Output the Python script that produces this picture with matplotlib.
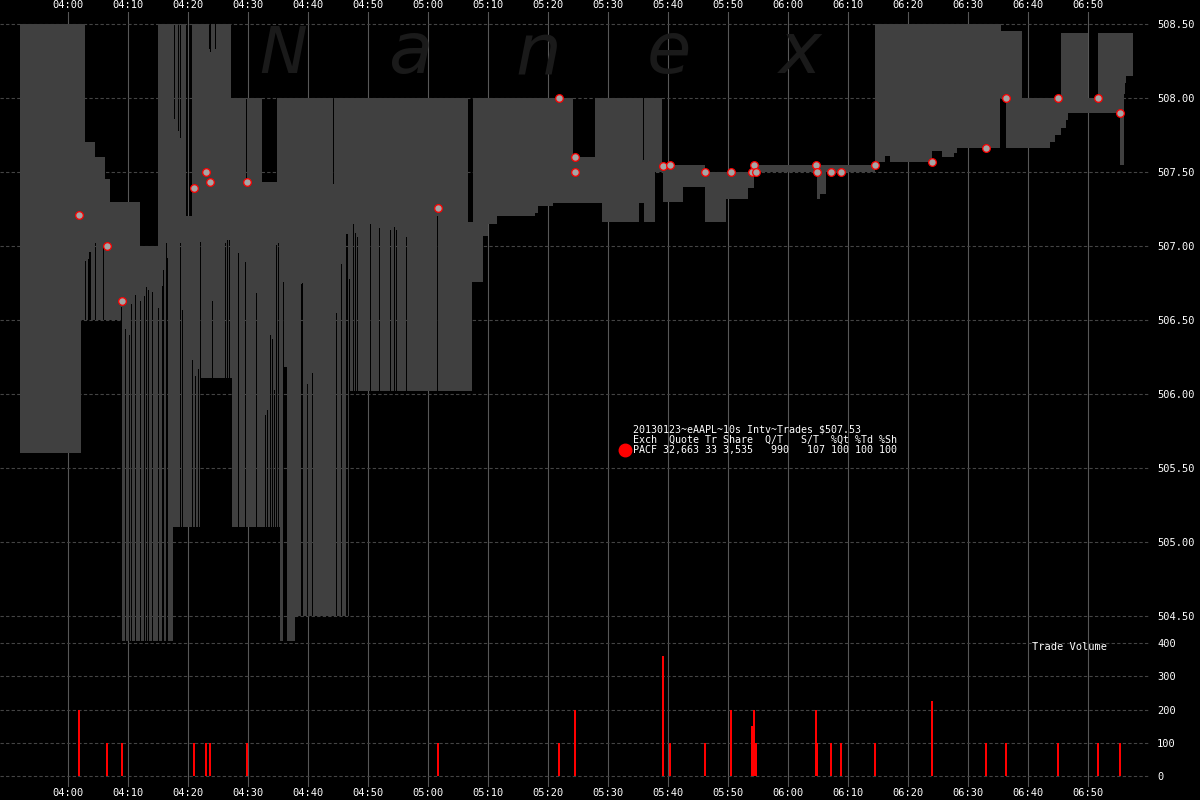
"""Recreates the Nanex eAAPL 10s interval quote spread and trade volume chart."""

import numpy as np
import matplotlib

matplotlib.use("Agg")

import matplotlib.pyplot as plt
from matplotlib.ticker import FixedLocator, FuncFormatter


FIG_WIDTH_PX = 1200
FIG_HEIGHT_PX = 800
DPI = 100
PLOT_RIGHT_PX = 1150
PRICE_TOP_PX = 12
PRICE_BOTTOM_PX = 641
VOLUME_BOTTOM_PX = 787
X_LIMITS = (-680, 10820)
PRICE_LIMITS = (504.331, 508.581)
VOLUME_LIMITS = (-33, 406)
COLUMN_SECONDS = 10
MONO = "DejaVu Sans Mono"
SPREAD_COLOR = "#404040"
GRID_COLOR = "#575757"
DASH_COLOR = "#444444"

# Quote spread: step series of the best ask (top edge) and best bid (bottom edge)
ASK_TIMES = ["03:52:00", "04:02:50", "04:04:30", "04:06:10", "04:07:00", "04:12:00", "04:15:00", "04:19:40",
             "04:20:40", "04:27:10", "04:32:20", "04:34:50", "05:06:40", "05:07:30", "05:24:10", "05:27:50",
             "05:39:00", "05:46:10", "05:54:20", "06:14:30", "06:35:30", "06:39:00", "06:45:30", "06:50:00",
             "06:51:40"]
ASK_PRICES = [508.50, 507.70, 507.60, 507.45, 507.30, 507.00, 508.50, 507.20,
              508.50, 508.00, 507.43, 508.00, 507.16, 508.00, 507.60, 508.00,
              507.55, 507.50, 507.55, 508.50, 508.45, 508.00, 508.44, 508.00,
              508.44]
BID_TIMES = ["03:52:00", "04:02:10", "04:09:00", "04:17:30", "04:22:10", "04:27:20", "04:35:20", "04:35:50",
             "04:36:30", "04:37:50", "04:47:00", "05:07:20", "05:09:10", "05:10:00", "05:11:30", "05:17:50",
             "05:18:20", "05:20:50", "05:29:00", "05:35:10", "05:36:00", "05:37:50", "05:39:10", "05:42:30",
             "05:46:10", "05:49:40", "05:53:20", "05:54:20", "06:04:50", "06:05:20", "06:06:20", "06:14:30",
             "06:16:10", "06:17:00", "06:24:00", "06:25:40", "06:27:40", "06:28:10", "06:35:20", "06:36:20",
             "06:43:40", "06:44:30", "06:45:30", "06:46:20", "06:46:40", "06:55:20", "06:56:00", "06:56:10",
             "06:56:20"]
BID_PRICES = [505.60, 506.50, 504.30, 505.10, 506.11, 505.10, 504.30, 506.18,
              504.30, 504.50, 506.02, 506.76, 507.07, 507.15, 507.20, 507.22,
              507.27, 507.29, 507.16, 507.29, 507.16, 507.50, 507.30, 507.40,
              507.16, 507.32, 507.39, 507.50, 507.32, 507.35, 507.50, 507.57,
              507.61, 507.57, 507.64, 507.60, 507.63, 507.66, 508.00, 507.66,
              507.70, 507.75, 507.80, 507.85, 507.90, 507.55, 508.03, 508.10,
              508.15]
END_TIME = "06:57:30"

# Single 10s intervals where the ask dipped / the bid jumped
ASK_SPIKE_TIMES = ["04:17:40", "04:18:20", "04:18:40", "04:23:30", "04:23:40", "04:24:30", "04:29:40", "04:44:10",
                   "05:35:50"]
ASK_SPIKE_PRICES = [507.86, 507.78, 507.73, 508.33, 508.31, 508.33, 507.43, 507.42, 507.58]
BID_SPIKE_TIMES = ["04:02:50", "04:03:20", "04:03:30", "04:03:40", "04:04:30", "04:05:50", "04:08:50", "04:09:30",
                   "04:10:10", "04:10:30", "04:11:10", "04:12:00", "04:12:40", "04:13:00", "04:13:20", "04:14:00",
                   "04:15:00", "04:15:40", "04:15:50", "04:16:20", "04:16:30", "04:18:40", "04:19:00", "04:20:40",
                   "04:21:10", "04:21:40", "04:22:00", "04:24:00", "04:26:10", "04:26:30", "04:26:50", "04:28:20",
                   "04:29:30", "04:31:20", "04:32:50", "04:33:10", "04:33:40", "04:34:00", "04:34:20", "04:34:40",
                   "04:35:00", "04:35:50", "04:38:50", "04:39:00", "04:39:50", "04:40:40", "04:44:40", "04:45:30",
                   "04:46:20", "04:46:30", "04:46:50", "04:47:30", "04:47:50", "04:48:10", "04:50:20", "04:51:50",
                   "04:53:40", "04:54:20", "04:54:40", "04:56:20", "05:01:30"]
BID_SPIKE_PRICES = [506.90, 506.91, 506.96, 506.96, 507.02, 506.99, 506.59, 506.44,
                    506.40, 506.61, 506.67, 506.63, 506.66, 506.72, 506.70, 506.69,
                    506.58, 506.73, 506.84, 507.02, 506.92, 507.02, 506.57, 506.23,
                    506.12, 506.17, 507.03, 506.63, 507.02, 507.04, 507.04, 506.95,
                    506.89, 506.68, 505.86, 505.89, 506.40, 506.37, 506.03, 507.01,
                    507.02, 506.76, 506.74, 506.75, 506.07, 506.14, 506.55, 506.88,
                    507.08, 507.08, 506.78, 507.15, 507.09, 507.06, 507.15, 507.12,
                    507.11, 507.13, 507.11, 507.06, 507.20]

# Trades
TRADE_TIMES = ["04:01:50", "04:06:30", "04:09:00", "04:21:00", "04:23:00", "04:23:40", "04:29:50", "05:01:40",
               "05:21:50", "05:24:30", "05:24:30", "05:39:10", "05:40:20", "05:46:10", "05:50:30", "05:54:00",
               "05:54:20", "05:54:40", "06:04:40", "06:04:50", "06:07:10", "06:08:50", "06:14:30", "06:24:00",
               "06:33:00", "06:36:20", "06:45:00", "06:51:40", "06:55:20"]
TRADE_PRICES = [507.21, 507.00, 506.63, 507.39, 507.50, 507.43, 507.43, 507.26,
                508.00, 507.60, 507.50, 507.54, 507.55, 507.50, 507.50, 507.50,
                507.55, 507.50, 507.55, 507.50, 507.50, 507.50, 507.55, 507.57,
                507.66, 508.00, 508.00, 508.00, 507.90]
VOLUME_TIMES = ["04:01:50", "04:06:30", "04:09:00", "04:21:00", "04:23:00", "04:23:40", "04:29:50", "05:01:40",
                "05:21:50", "05:24:30", "05:39:10", "05:40:20", "05:46:10", "05:50:30", "05:54:00", "05:54:20",
                "05:54:40", "06:04:40", "06:04:50", "06:07:10", "06:08:50", "06:14:30", "06:24:00", "06:33:00",
                "06:36:20", "06:45:00", "06:51:40", "06:55:20"]
VOLUME_SHARES = [200, 100, 100, 100, 100, 100, 100, 100,
                 100, 200, 360, 100, 100, 200, 150, 200,
                 100, 200, 100, 100, 100, 100, 225, 100,
                 100, 100, 100, 100]

PRICE_TICKS = [504.5, 505.0, 505.5, 506.0, 506.5, 507.0, 507.5, 508.0, 508.5]
VOLUME_TICKS = [0, 100, 200, 300, 400]
TIME_TICKS = list(range(0, 10201, 600))

WATERMARK_LETTERS = ["N", "a", "n", "e", "x"]
WATERMARK_X_PX = [283, 410, 538, 669, 800]
ANNOTATION_LINES = ["20130123~eAAPL~10s Intv~Trades $507.53",
                    "Exch  Quote Tr Share  Q/T   S/T  %Qt %Td %Sh",
                    "PACF 32,663 33 3,535   990   107 100 100 100"]


def clock_seconds(stamp: str) -> int:
    """Converts HH:MM:SS to seconds after 04:00."""
    hours, minutes, seconds = (int(part) for part in stamp.split(":"))
    return hours * 3600 + minutes * 60 + seconds - 4 * 3600


def to_seconds(stamps: list[str]) -> np.ndarray:
    """Converts a list of clock stamps to seconds after 04:00."""
    return np.array([clock_seconds(stamp) for stamp in stamps])


def clock_label(value: float, _pos) -> str:
    """Formats seconds after 04:00 as HH:MM."""
    value = int(round(value))
    return f"{4 + value // 3600:02d}:{value % 3600 // 60:02d}"


def build_spread() -> tuple[np.ndarray, np.ndarray, np.ndarray]:
    """Merges the ask/bid step series and their one-interval spikes onto common edges."""
    ask_t, bid_t = to_seconds(ASK_TIMES), to_seconds(BID_TIMES)
    ask_spike_t, bid_spike_t = to_seconds(ASK_SPIKE_TIMES), to_seconds(BID_SPIKE_TIMES)
    end = clock_seconds(END_TIME)
    edges = np.unique(np.concatenate([ask_t, bid_t, ask_spike_t, ask_spike_t + COLUMN_SECONDS,
                                      bid_spike_t, bid_spike_t + COLUMN_SECONDS, [end]]))
    edges = edges[edges <= end]
    ask = np.array(ASK_PRICES)[np.searchsorted(ask_t, edges, side="right") - 1]
    bid = np.array(BID_PRICES)[np.searchsorted(bid_t, edges, side="right") - 1]
    ask[np.searchsorted(edges, ask_spike_t)] = ASK_SPIKE_PRICES
    bid[np.searchsorted(edges, bid_spike_t)] = BID_SPIKE_PRICES
    return edges, bid, ask


def px_rect(top_px: float, bottom_px: float) -> list[float]:
    """Axes rectangle in figure fractions from pixel rows."""
    return [0, 1 - bottom_px / FIG_HEIGHT_PX, PLOT_RIGHT_PX / FIG_WIDTH_PX, (bottom_px - top_px) / FIG_HEIGHT_PX]


def style_axes(ax, y_ticks, y_format: str):
    """Applies the black Nanex look to one panel."""
    ax.set_facecolor("black")
    for spine in ax.spines.values():
        spine.set_visible(False)
    ax.set_xlim(*X_LIMITS)
    ax.xaxis.set_major_locator(FixedLocator(TIME_TICKS))
    ax.xaxis.set_major_formatter(FuncFormatter(clock_label))
    ax.yaxis.set_major_locator(FixedLocator(y_ticks))
    ax.yaxis.set_major_formatter(FuncFormatter(lambda v, _p: format(v, y_format)))
    ax.yaxis.tick_right()
    ax.tick_params(axis="y", length=0, pad=5, labelcolor="white", labelsize=7.5)
    ax.set_axisbelow(True)
    ax.grid(axis="x", color=GRID_COLOR, linewidth=0.8, linestyle="-")
    ax.grid(axis="y", color=DASH_COLOR, linewidth=0.8, linestyle=(0, (3, 2)))
    for label in ax.get_xticklabels() + ax.get_yticklabels():
        label.set_fontfamily(MONO)


def main():
    """Draws the chart and saves out.png."""
    fig = plt.figure(figsize=(FIG_WIDTH_PX / DPI, FIG_HEIGHT_PX / DPI), dpi=DPI, facecolor="black")
    price_ax = fig.add_axes(px_rect(PRICE_TOP_PX, PRICE_BOTTOM_PX))
    volume_ax = fig.add_axes(px_rect(PRICE_BOTTOM_PX, VOLUME_BOTTOM_PX))

    price_ax.set_ylim(*PRICE_LIMITS)
    style_axes(price_ax, PRICE_TICKS, ".2f")
    price_ax.tick_params(axis="x", top=True, labeltop=True, bottom=False, labelbottom=False, length=0, pad=1.5,
                         labelcolor="white", labelsize=7.5)

    volume_ax.set_ylim(*VOLUME_LIMITS)
    style_axes(volume_ax, VOLUME_TICKS, "d")
    volume_ax.tick_params(axis="x", length=0, pad=1, labelcolor="white", labelsize=7.5)
    for label in price_ax.get_xticklabels() + volume_ax.get_xticklabels():
        label.set_fontfamily(MONO)

    for letter, x_px in zip(WATERMARK_LETTERS, WATERMARK_X_PX):
        price_ax.text(x_px / FIG_WIDTH_PX, 1 - 73 / FIG_HEIGHT_PX, letter, transform=fig.transFigure,
                      ha="center", va="baseline", fontsize=46 if letter.isupper() else 52, style="italic",
                      color="#1a1a1a", zorder=0.7)

    edges, bid, ask = build_spread()
    price_ax.fill_between(edges, bid, ask, step="post", color=SPREAD_COLOR, linewidth=0, zorder=1)
    price_ax.plot(to_seconds(TRADE_TIMES), TRADE_PRICES, linestyle="none", marker="o", markersize=5.5,
                  markerfacecolor="#a6a6a6", markeredgecolor="red", markeredgewidth=0.9, zorder=4)

    volume_ax.vlines(to_seconds(VOLUME_TIMES), 0, VOLUME_SHARES, color="#ff0000", linewidth=1.3,
                     antialiased=False, zorder=3)
    volume_ax.text(1032 / FIG_WIDTH_PX, 1 - 647 / FIG_HEIGHT_PX, "Trade Volume", transform=fig.transFigure,
                   ha="left", va="center", color="white", fontsize=7.5, fontfamily=MONO)

    for line_ind, line in enumerate(ANNOTATION_LINES):
        price_ax.text(633 / FIG_WIDTH_PX, 1 - (430 + 10 * line_ind) / FIG_HEIGHT_PX, line, transform=fig.transFigure,
                      ha="left", va="center", color="white", fontsize=7.2, fontfamily=MONO, zorder=5)
    price_ax.plot([625 / FIG_WIDTH_PX], [1 - 450 / FIG_HEIGHT_PX], marker="o", markersize=9, color="red",
                  transform=fig.transFigure, clip_on=False, zorder=5)

    fig.savefig("out.png", dpi=DPI, facecolor="black")


if __name__ == "__main__":
    main()
